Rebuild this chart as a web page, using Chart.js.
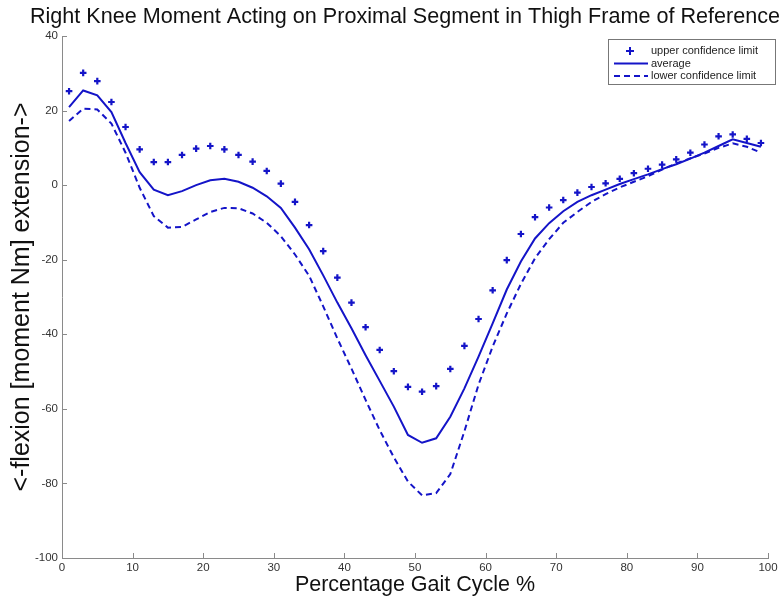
<!DOCTYPE html>
<html>
<head>
<meta charset="utf-8">
<title>Right Knee Moment</title>
<script src="https://cdn.jsdelivr.net/npm/chart.js@4.4.0/dist/chart.umd.min.js"></script>
<style>
  html, body { margin: 0; padding: 0; background: #fff; }
  canvas { display: block; }
</style>
</head>
<body>
<canvas id="kneeChart" width="784" height="600"></canvas>
<script>
// Percent of gait cycle where each sample was taken
const gaitPct = [1, 3, 5, 7, 9, 11, 13, 15, 17, 19, 21, 23, 25, 27, 29, 31, 33, 35, 37, 39,
                 41, 43, 45, 47, 49, 51, 53, 55, 57, 59, 61, 63, 65, 67, 69, 71, 73, 75, 77, 79,
                 81, 83, 85, 87, 89, 91, 93, 95, 97, 99];

// Knee moment (Nm), flexion negative / extension positive
const upperLimit = [25.2, 30.1, 27.9, 22.3, 15.6, 9.6, 6.2, 6.2, 8.1, 9.8,
                    10.5, 9.6, 8.1, 6.3, 3.8, 0.4, -4.5, -10.7, -17.7, -24.8,
                    -31.5, -38.1, -44.2, -49.9, -54.1, -55.4, -53.9, -49.3, -43.1, -35.9,
                    -28.2, -20.1, -13.1, -8.6, -6.0, -4.0, -2.0, -0.5, 0.5, 1.7,
                    3.2, 4.4, 5.5, 6.9, 8.7, 10.9, 13.1, 13.6, 12.4, 11.3];

const average = [20.9, 25.4, 24.1, 19.6, 11.3, 3.5, -1.2, -2.7, -1.6, 0.0,
                 1.3, 1.7, 0.9, -0.7, -3.0, -6.1, -11.4, -17.2, -24.2, -31.5,
                 -38.4, -45.6, -52.5, -59.4, -67.0, -69.1, -67.9, -62.1, -54.5, -46.0,
                 -37.1, -28.0, -20.5, -14.3, -10.2, -7.0, -4.5, -2.7, -1.2, 0.3,
                 1.6, 2.9, 4.3, 5.6, 7.1, 8.7, 10.5, 12.3, 11.3, 10.3];

const lowerLimit = [17.2, 20.5, 20.3, 16.5, 8.7, -0.7, -8.3, -11.4, -11.2, -9.2,
                    -7.2, -6.1, -6.2, -7.6, -10.1, -13.7, -18.6, -24.3, -32.5, -41.1,
                    -49.2, -57.6, -65.7, -73.0, -79.5, -83.2, -82.6, -77.5, -66.0, -53.5,
                    -43.3, -34.4, -26.5, -19.6, -14.5, -10.1, -7.2, -4.5, -2.4, -0.6,
                    0.9, 2.4, 4.2, 5.8, 7.2, 8.5, 10.0, 11.2, 10.3, 8.7];

const seriesNames = ['upper confidence limit', 'average', 'lower confidence limit'];
const chartTitle = 'Right Knee Moment Acting on Proximal Segment in Thigh Frame of Reference';
const xTitle = 'Percentage Gait Cycle %';
const yTitle = '<-flexion [moment Nm] extension->';

const BLUE = '#1414c8';
const AXIS_GRAY = '#8a8a8a';
const FONT = '"Liberation Sans", Arial, sans-serif';

Chart.defaults.font.family = FONT;

function toPoints(values) {
    return gaitPct.map((x, i) => ({ x: x, y: values[i] }));
}

// title centred over the plot (drawn by hand so it can sit a bit left of centre)
const titlePlugin = {
    id: 'plotTitle',
    afterDraw(chart) {
        const c = chart.ctx;
        c.save();
        c.font = '21.6px ' + FONT;
        c.fillStyle = '#111';
        c.textAlign = 'center';
        c.textBaseline = 'middle';
        c.fillText(chartTitle, 405, 17);
        c.restore();
    }
};

// small tick marks pointing into the plot
const inwardTicks = {
    id: 'inwardTicks',
    afterDraw(chart) {
        const c = chart.ctx;
        const area = chart.chartArea;
        const xs = chart.scales.x, ys = chart.scales.y;
        c.save();
        c.strokeStyle = AXIS_GRAY;
        c.lineWidth = 1;
        c.beginPath();
        ys.ticks.forEach(t => {
            const py = Math.round(ys.getPixelForValue(t.value)) + 0.5;
            c.moveTo(area.left, py);
            c.lineTo(area.left + 5, py);
        });
        xs.ticks.forEach(t => {
            const px = Math.round(xs.getPixelForValue(t.value)) + 0.5;
            c.moveTo(px, area.bottom);
            c.lineTo(px, area.bottom - 5);
        });
        c.stroke();
        c.restore();
    }
};

// boxed legend in the top right corner
const legendBox = {
    id: 'legendBox',
    afterDraw(chart) {
        const c = chart.ctx;
        const left = 608, top = 39, w = 167, h = 45;
        c.save();
        c.fillStyle = '#fff';
        c.fillRect(left, top, w, h);
        c.strokeStyle = '#777';
        c.lineWidth = 1;
        c.strokeRect(left + 0.5, top + 0.5, w, h);
        c.font = '11px ' + FONT;
        c.textBaseline = 'middle';
        chart.data.datasets.forEach((ds, i) => {
            const y = top + 12 + i * 12.5;
            c.strokeStyle = ds.borderColor;
            c.lineWidth = 2;
            c.beginPath();
            if (ds.showLine === false) {
                c.moveTo(626, y); c.lineTo(634, y);
                c.moveTo(630, y - 4); c.lineTo(630, y + 4);
            } else {
                c.setLineDash(ds.borderDash || []);
                c.moveTo(614, y); c.lineTo(648, y);
            }
            c.stroke();
            c.setLineDash([]);
            c.fillStyle = '#222';
            c.fillText(ds.label, 651, y);
        });
        c.restore();
    }
};

new Chart(document.getElementById('kneeChart'), {
    type: 'line',
    data: {
        datasets: [
            {
                label: seriesNames[0],
                data: toPoints(upperLimit),
                showLine: false,
                borderColor: BLUE,
                backgroundColor: BLUE,
                pointStyle: 'cross',
                pointRadius: 3.3,
                pointBorderWidth: 2.2
            },
            {
                label: seriesNames[1],
                data: toPoints(average),
                borderColor: BLUE,
                borderWidth: 2,
                pointRadius: 0,
                tension: 0
            },
            {
                label: seriesNames[2],
                data: toPoints(lowerLimit),
                borderColor: BLUE,
                borderWidth: 2,
                borderDash: [6, 4],
                pointRadius: 0,
                tension: 0
            }
        ]
    },
    options: {
        responsive: false,
        animation: false,
        layout: { padding: { top: 36, right: 16, bottom: 0, left: 0 } },
        scales: {
            x: {
                type: 'linear',
                min: 0,
                max: 100,
                ticks: { stepSize: 10, padding: 3, color: '#333', font: { size: 11.5 } },
                grid: { display: false, drawTicks: false },
                border: { display: true, color: AXIS_GRAY },
                title: {
                    display: true,
                    text: xTitle,
                    color: '#111',
                    font: { size: 21.5 },
                    padding: { top: 0, bottom: 2 }
                },
                afterFit(s) {
                    s.height = 42;
                    s.paddingLeft = 0;
                    s.paddingRight = 0;
                }
            },
            y: {
                min: -100,
                max: 40,
                ticks: { stepSize: 20, padding: 4, color: '#333', font: { size: 11.5 } },
                grid: { display: false, drawTicks: false },
                border: { display: true, color: AXIS_GRAY },
                title: {
                    display: true,
                    text: yTitle,
                    color: '#111',
                    font: { size: 25 },
                    padding: { top: 7, bottom: 0 }
                },
                afterFit(s) {
                    s.width = 62;
                    s.paddingTop = 0;
                    s.paddingBottom = 0;
                }
            }
        },
        plugins: {
            legend: { display: false },
            tooltip: { enabled: false }
        }
    },
    plugins: [titlePlugin, inwardTicks, legendBox]
});
</script>
</body>
</html>
